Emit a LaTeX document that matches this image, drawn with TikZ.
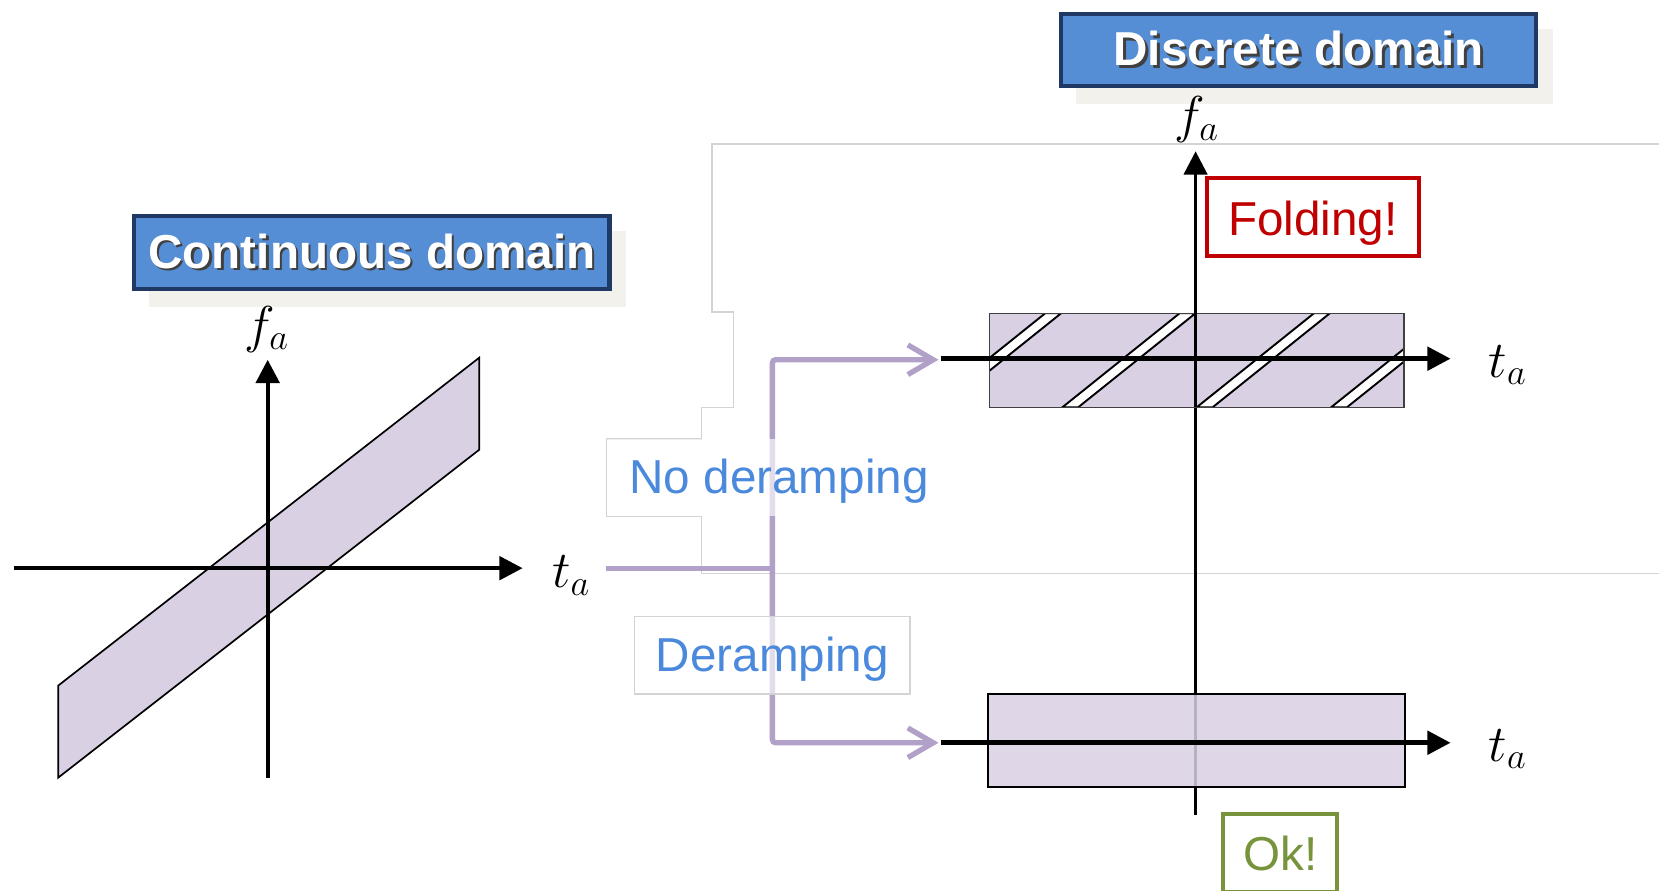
\RequirePackage{fix-cm}
\documentclass[tikz,border=0pt]{standalone}
\usepackage{fontspec}
\newfontfamily\lsans{Liberation Sans}
\usetikzlibrary{arrows.meta}
\definecolor{titleblue}{HTML}{558ED5}
\definecolor{titleedge}{HTML}{1F3864}
\definecolor{shadowbg}{HTML}{F2F1EC}
\definecolor{lav}{HTML}{D9D0E3}
\definecolor{purp}{HTML}{B1A0C7}
\definecolor{lblblue}{HTML}{4A89DC}
\definecolor{warnred}{HTML}{C00000}
\definecolor{okgreen}{HTML}{77933C}
\definecolor{framegray}{HTML}{D3D3D3}
\newcommand\shtext[1]{\makebox[0pt][l]{\hspace{1.2pt}\raisebox{-1.2pt}{\textcolor{black!75}{#1}}}\textcolor{white}{#1}}
\begin{document}
\begin{tikzpicture}[x=0.5pt,y=-0.5pt,
  titlebox/.style={draw=titleedge, line width=2pt, fill=titleblue, minimum width=224.5pt, minimum height=34.5pt, inner sep=0pt, font=\lsans\bfseries\fontsize{22.5}{27}\selectfont},
  axis/.style={line width=2pt, -{Triangle[length=11pt,width=11pt]}},
  mathlbl/.style={font=\fontsize{24.5}{29}\selectfont, inner sep=0pt},
  flow/.style={draw=purp, line width=2.5pt, rounded corners=1.5pt},
  flowarrow/.style={flow, -{Straight Barb[length=12pt,width=14pt]}},
  lbl/.style={text=lblblue, font=\lsans\fontsize{22.5}{27}\selectfont, fill=white, fill opacity=0.65, text opacity=1, inner sep=0pt},
  band/.style={fill=lav, draw=black},
  stripe/.style={fill=white, draw=black, line width=0.9pt},
  tagbox/.style={fill=white, line width=2pt, inner sep=0pt, minimum height=37pt, font=\lsans\fontsize{22.5}{27}\selectfont}
]
\useasboundingbox (0,0) rectangle (1568,842);

% ---------- continuous domain ----------
\fill[shadowbg] (141,218) rectangle (592,290);
\node[titlebox] (ctitle) at (351.5,238.5) {\shtext{Continuous domain}};

\draw[band, line width=0.8pt] (55,648) -- (453,338) -- (453,425) -- (55,735) -- cycle;

\coordinate (lvb) at (253,735);
\coordinate (lvt) at (253,340);
\coordinate (lhl) at (13,537);
\coordinate (lhr) at (494,537);
\draw[axis] (lvb) -- (lvt);
\draw[axis] (lhl) -- (lhr);
\node[mathlbl] (lfa) at (252,311) {$f_a$};
\node[mathlbl] (lta) at (540,544) {$t_a$};

% ---------- discrete domain ----------
\fill[shadowbg] (1017,27) rectangle (1468,98);
\node[titlebox, minimum height=34pt] (dtitle) at (1227.5,47) {\shtext{Discrete domain}};
\node[mathlbl] (rfa) at (1131,113) {$f_a$};

% frame lines (background outline)
\draw[framegray, line width=0.6pt] (1568,136) -- (673,136) -- (673,295) -- (693,295) -- (693,385) -- (663,385) -- (663,415) -- (573,415);
\draw[framegray, line width=0.6pt] (663,488) -- (663,542) -- (1568,542);

% vertical axis right
\coordinate (rvb) at (1130,770);
\coordinate (rvt) at (1130,143);
\draw[axis, line width=1.6pt] (rvb) -- (rvt);

% upper (folded) band
\fill[lav] (935,296) rectangle (1327,385);
\begin{scope}
  \clip (935,296) rectangle (1327,385);
  \foreach \k in {0,1,2,3} {
    \pgfmathsetmacro{\xo}{988+127*\k}
    \draw[stripe] (\xo,296) -- (\xo+15,296) -- (\xo-96,385) -- (\xo-111,385) -- cycle;
  }
\end{scope}
\draw[black!75, line width=0.6pt] (935,296) rectangle (1327,385);
\draw[line width=1.6pt] (1130,296) -- (1130,385);
\coordinate (uhl) at (889,339);
\coordinate (uhr) at (1371,339);
\draw[axis, line width=2.2pt] (uhl) -- (uhr);
\node[mathlbl] (uta) at (1425,345) {$t_a$};

% lower band
\draw[band, fill opacity=0.85, line width=1pt] (934,656) rectangle (1328,744);
\coordinate (dhl) at (889,702);
\coordinate (dhr) at (1371,702);
\draw[axis, line width=2.2pt] (dhl) -- (dhr);
\node[mathlbl] (dta) at (1425,708) {$t_a$};

% tags
\node[tagbox, draw=warnred, text=warnred, minimum width=100pt, text height=22.4pt, text depth=4.7pt] (fold) at (1241,205) {Folding!};
\node[tagbox, draw=okgreen, text=okgreen, minimum width=54pt, text height=17pt, text depth=0pt] (ok) at (1210,806) {Ok!};

% ---------- flow connector ----------
\coordinate (src) at (573,537);
\coordinate (jn) at (730,537);
\coordinate (up) at (887,340);
\coordinate (dn) at (887,702);
\draw[flow] (src) -- (jn);
\draw[flowarrow] (jn) |- (up);
\draw[flowarrow] (jn) |- (dn);

% labels
\node[lbl, minimum width=161pt, minimum height=36.5pt, text height=19.5pt, text depth=4.7pt, anchor=west] (nod) at (573,451.5) {\hspace{2pt}No deramping\hfill};
\node[lbl, draw=framegray, draw opacity=1, line width=0.6pt, minimum width=130pt, minimum height=36.5pt, text height=19.9pt, text depth=4.7pt] (der) at (730,619.5) {Deramping};
\draw[framegray, line width=0.6pt] (573,415) -- (573,488) -- (663,488);
\end{tikzpicture}
\end{document}
